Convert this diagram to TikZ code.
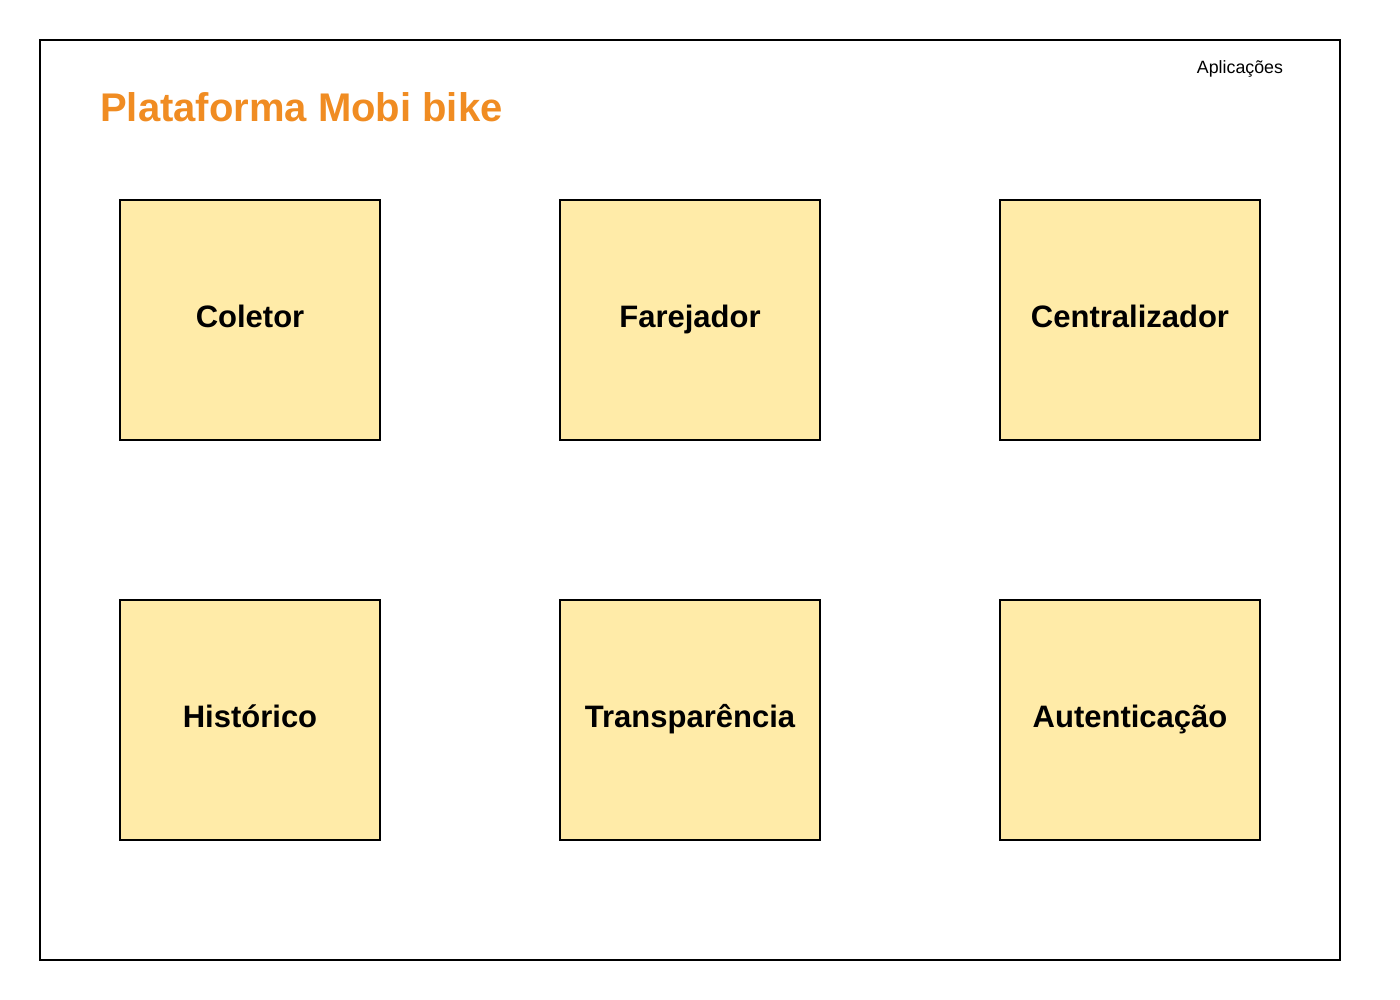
\documentclass[tikz,border=0pt]{standalone}
\usepackage{fontspec}
\setmainfont{Liberation Sans}
\definecolor{titleor}{HTML}{F08C22}
\definecolor{boxfill}{HTML}{FFEBA8}
\begin{document}
\begin{tikzpicture}[x=1pt,y=-1pt,
  appbox/.style={draw=black, line width=1.6pt, fill=boxfill, minimum width=260pt, minimum height=240pt, font=\fontsize{31}{36}\selectfont\bfseries, inner sep=0pt, text height=15pt, text depth=0pt}]
\useasboundingbox (0,0) rectangle (1400,1000);
\draw[line width=1.6pt] (40,40) rectangle (1340,960);
\node[anchor=base west, inner sep=0pt, text=titleor, font=\fontsize{40}{46}\selectfont\bfseries] (title) at (100,122) {Plataforma Mobi bike};
\node[anchor=base, inner sep=0pt, font=\fontsize{17.8}{20}\selectfont] (apl) at (1240,74) {Aplicações};
\node[appbox] (coletor) at (250,320) {Coletor};
\node[appbox] (farejador) at (690,320) {Farejador};
\node[appbox] (central) at (1130,320) {Centralizador};
\node[appbox] (hist) at (250,720) {Histórico};
\node[appbox] (transp) at (690,720) {Transparência};
\node[appbox] (auth) at (1130,720) {Autenticação};
\end{tikzpicture}
\end{document}
